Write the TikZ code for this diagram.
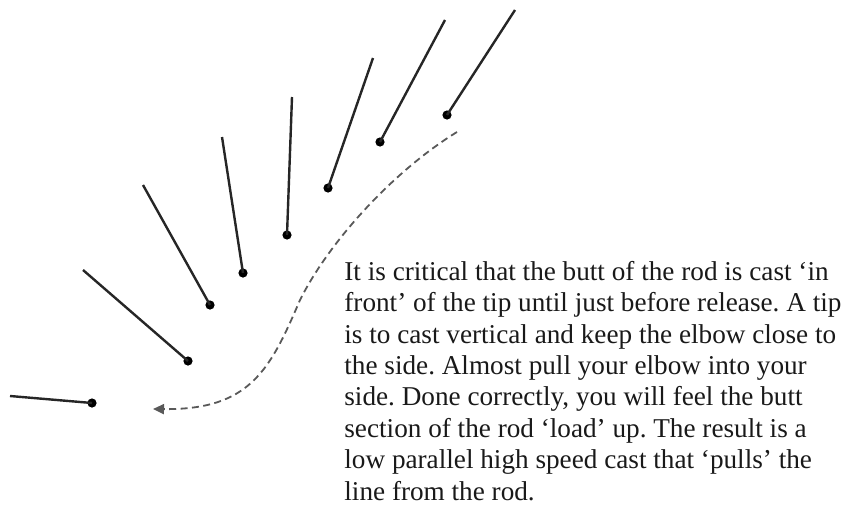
\documentclass[tikz,border=0pt]{standalone}
\usepackage{fontspec}
\setmainfont{Liberation Serif}
\usetikzlibrary{arrows.meta}
\frenchspacing

\tikzset{
    rod/.style={line width=1.2pt, black!85},
    butt/.style={circle, fill=black, inner sep=0pt, minimum size=4.6pt},
    path line/.style={black!65, line width=0.9pt, dash pattern=on 3.5pt off 2.2pt, -{Triangle[length=5.5pt, width=5pt]}},
    note/.style={align=left, inner sep=0pt, font=\fontsize{13.6}{15.7}\selectfont, text=black!90}
}

\begin{document}
\begin{tikzpicture}[x=0.5pt, y=-0.5pt]

    \useasboundingbox (0,0) rectangle (841,509);

    % Rod positions: butt (dot) and tip
    \foreach \bx/\by/\tx/\ty [count=\i] in {92/403/10/396, 188/361/83/270, 210/305/143/185, 243/273/222/137, 287/235/292/97, 328/188/373/58, 380/142/445/20, 447/115/515/10} {
        \coordinate (tip\i) at (\tx, \ty);
        \node[butt] (butt\i) at (\bx, \by) {};
        \draw[rod] (butt\i.center) -- (tip\i);
    }

    % Path of the butt
    \coordinate (pathstart) at (457, 132);
    \coordinate (pathmid) at (300, 300);
    \coordinate (pathend) at (153, 409);
    \draw[path line] (pathstart) .. controls (395, 170) and (330, 240) .. (pathmid)
        .. controls (270, 370) and (250, 410) .. (pathend);

    % Explanation
    \node[note, anchor=base west] (text) at (344, 500) {It is critical that the butt of the rod is cast `in\\
        front' of the tip until just before release. A tip\\
        is to cast vertical and keep the elbow close to\\
        the side. Almost pull your elbow into your\\
        side. Done correctly, you will feel the butt\\
        section of the rod `load' up. The result is a\\
        low parallel high speed cast that `pulls' the\\
        line from the rod.};

\end{tikzpicture}
\end{document}
